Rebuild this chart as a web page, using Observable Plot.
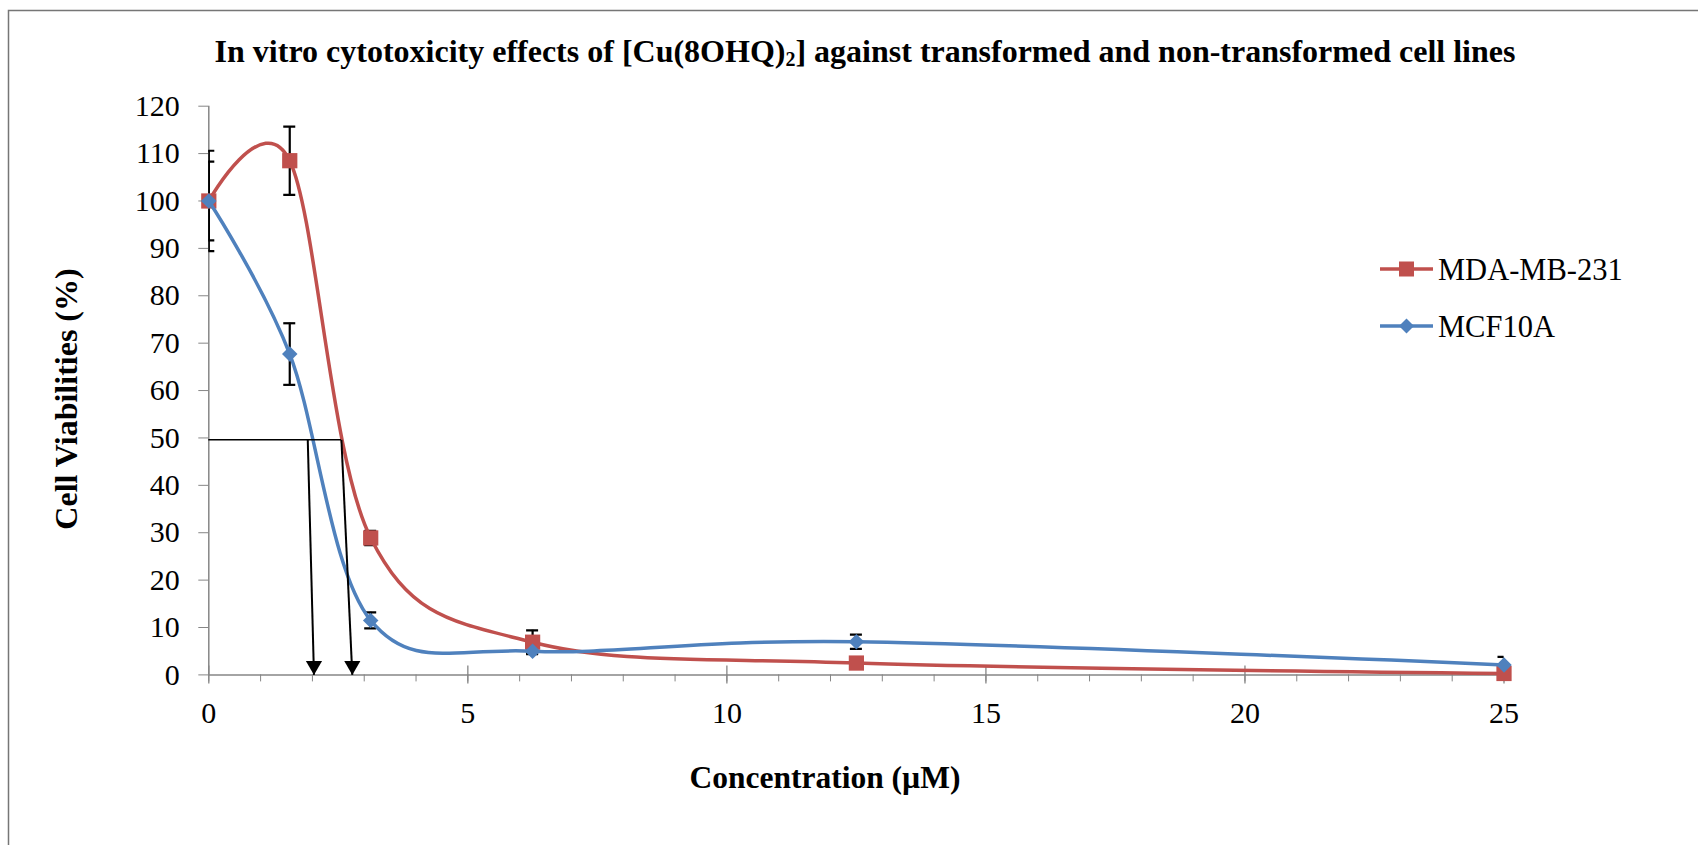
<!DOCTYPE html>
<html>
<head>
<meta charset="utf-8">
<script src="https://cdn.jsdelivr.net/npm/d3@7"></script>
<script src="https://cdn.jsdelivr.net/npm/@observablehq/plot@0.6"></script>
<style>
  body { margin: 0; background: #fff; }
  #chart { position: relative; width: 1698px; height: 845px; overflow: hidden; }
</style>
</head>
<body>
<div id="chart"></div>
<script>
// ---- data ----
const concentrations = [0, 1.5625, 3.125, 6.25, 12.5, 25];
const mdaValues = [100, 108.5, 28.9, 6.9, 2.5, 0.3];
const mdaErrors = [8.3, 7.2, 1.5, 2.5, 0.5, 0.3];
const mcfValues = [100, 67.7, 11.5, 5.0, 7.0, 2.1];
const mcfErrors = [10.6, 6.5, 1.7, 0.5, 1.5, 1.7];
const seriesNames = ["MDA-MB-231", "MCF10A"];
const seriesColors = ["#C0504D", "#4F81BD"];
const yTicks = d3.range(0, 121, 10);
const xMajorTicks = [0, 5, 10, 15, 20, 25];
const xMinorTicks = d3.range(0, 26, 1);
const ic50Level = 49.6;
const ic50LineEnd = 2.56;
const ic50Arrows = [{xTop: 1.91, xTip: 2.03}, {xTop: 2.56, xTip: 2.77}];
const titleText = "In vitro cytotoxicity effects of [Cu(8OHQ)";
const titleSub = "2";
const titleRest = "] against transformed and non-transformed cell lines";
const xLabel = "Concentration (\u00B5M)";
const yLabel = "Cell Viabilities (%)";

const toRows = (name, vals, errs) => concentrations.map((c, i) => ({
  series: name, x: c, y: vals[i], lo: vals[i] - errs[i], hi: vals[i] + errs[i]
}));
const mda = toRows(seriesNames[0], mdaValues, mdaErrors);
const mcf = toRows(seriesNames[1], mcfValues, mcfErrors);
const allRows = mda.concat(mcf);

const axisGray = "#868686";

const svg = Plot.plot({
  width: 1698,
  height: 845,
  marginLeft: 208.3,
  marginRight: 194.5,
  marginTop: 105.7,
  marginBottom: 170.6,
  style: {fontFamily: "'Liberation Serif','Times New Roman',serif", fontSize: "30px", color: "#000", background: "transparent", overflow: "visible"},
  x: {domain: [0, 25]},
  y: {domain: [0, 120]},
  marks: [
    Plot.axisY({ticks: yTicks, tickSize: 10, tickPadding: 19, stroke: axisGray, fill: "#000", label: null}),
    Plot.axisX({ticks: xMinorTicks, tickSize: 7, tickFormat: () => "", stroke: axisGray, label: null}),
    Plot.axisX({ticks: xMajorTicks, tickSize: 0, tickPadding: 27, fill: "#000", label: null}),
    Plot.ruleX(xMajorTicks, {x: d => d, y1: () => 0, y2: () => 0, insetTop: -9, insetBottom: -9, stroke: axisGray, strokeWidth: 1.3}),
    Plot.ruleX([0], {stroke: axisGray, strokeWidth: 1.5}),
    Plot.ruleY([0], {stroke: axisGray, strokeWidth: 1.5}),
    // error bars
    Plot.ruleX(allRows, {x: "x", y1: "lo", y2: "hi", stroke: "#000", strokeWidth: 2.2, clip: true}),
    Plot.ruleY(allRows, {y: "hi", x1: "x", x2: "x", insetLeft: -6, insetRight: -6, stroke: "#000", strokeWidth: 2.2, clip: true}),
    Plot.ruleY(allRows, {y: "lo", x1: "x", x2: "x", insetLeft: -6, insetRight: -6, stroke: "#000", strokeWidth: 2.2, clip: true}),
    // series
    Plot.line(mda, {x: "x", y: "y", stroke: seriesColors[0], strokeWidth: 3.5, curve: "cardinal"}),
    Plot.dot(mda, {x: "x", y: "y", symbol: "square", r: 8.6, fill: seriesColors[0]}),
    Plot.line(mcf, {x: "x", y: "y", stroke: seriesColors[1], strokeWidth: 3.5, curve: "cardinal"}),
    Plot.dot(mcf, {x: "x", y: "y", symbol: "diamond2", r: 7, fill: seriesColors[1]}),
    // IC50 annotation
    Plot.ruleY([ic50Level], {y: d => d, x1: () => 0, x2: () => ic50LineEnd, stroke: "#000", strokeWidth: 1.5}),
    Plot.link(ic50Arrows, {x1: "xTop", y1: () => ic50Level, x2: "xTip", y2: () => 0, stroke: "#000", strokeWidth: 2}),
    Plot.dot(ic50Arrows, {x: "xTip", y: () => 0, symbol: "triangle", r: 6, rotate: 180, fill: "#000", dy: -9.3})
  ]
});

const s = d3.select(svg);
// outer border
s.insert("rect", ":first-child")
  .attr("x", 8.5).attr("y", 10.5).attr("width", 1800).attr("height", 900)
  .attr("fill", "#fff").attr("stroke", "#767676").attr("stroke-width", 1.5);

// title
const t = s.append("text")
  .attr("x", 865).attr("y", 62)
  .attr("text-anchor", "middle")
  .attr("font-weight", "bold")
  .attr("font-size", 32)
  .attr("fill", "#000");
t.append("tspan").text(titleText);
t.append("tspan").attr("font-size", 20).attr("dy", 4).text(titleSub);
t.append("tspan").attr("dy", -4).text(titleRest);

// axis titles
s.append("text")
  .attr("transform", "translate(76.5,399) rotate(-90)")
  .attr("text-anchor", "middle")
  .attr("font-weight", "bold").attr("font-size", 32).attr("fill", "#000")
  .text(yLabel);
s.append("text")
  .attr("x", 825).attr("y", 788)
  .attr("text-anchor", "middle")
  .attr("font-weight", "bold").attr("font-size", 31.5).attr("fill", "#000")
  .text(xLabel);

// legend
const legendY = [269, 326];
seriesNames.forEach((name, i) => {
  const g = s.append("g");
  g.append("line").attr("x1", 1380).attr("x2", 1433).attr("y1", legendY[i]).attr("y2", legendY[i])
    .attr("stroke", seriesColors[i]).attr("stroke-width", 3.5);
  if (i === 0) {
    g.append("rect").attr("x", 1406.5 - 7.5).attr("y", legendY[i] - 7.5).attr("width", 15).attr("height", 15)
      .attr("fill", seriesColors[i]);
  } else {
    g.append("path").attr("d", `M1406.5,${legendY[i]-7.5}L1414,${legendY[i]}L1406.5,${legendY[i]+7.5}L1399,${legendY[i]}Z`)
      .attr("fill", seriesColors[i]);
  }
  g.append("text").attr("x", 1438).attr("y", legendY[i] + 11).attr("text-anchor", "start")
    .attr("font-size", 30.5).attr("fill", "#000").text(name);
});

document.getElementById("chart").appendChild(svg);
</script>
</body>
</html>
